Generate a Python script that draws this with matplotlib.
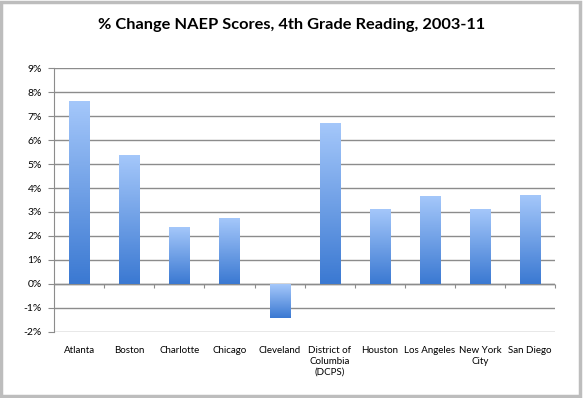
import matplotlib
matplotlib.use('Agg')
import matplotlib.pyplot as plt
import numpy as np
from matplotlib.colors import LinearSegmentedColormap
from matplotlib.ticker import FuncFormatter

cities = ['Atlanta', 'Boston', 'Charlotte', 'Chicago', 'Cleveland',
          'District of\nColumbia\n(DCPS)', 'Houston', 'Los Angeles',
          'New York\nCity', 'San Diego']
changes = [7.6, 5.35, 2.35, 2.75, -1.4, 6.7, 3.12, 3.65, 3.1, 3.68]
yticks = list(range(-2, 10))

plt.rcParams['font.family'] = ['Lato', 'DejaVu Sans']

fig = plt.figure(figsize=(5.83, 3.98), dpi=100)
fig.patches.append(plt.Rectangle((0.002, 0.004), 0.992, 0.99, transform=fig.transFigure,
                                  fill=False, edgecolor='#bdbdbd', linewidth=2.5))
ax = fig.add_axes([0.093, 0.166, 0.859, 0.663])

ymin, ymax = -2, 9
x = np.arange(len(cities))
width = 0.4
cmap = LinearSegmentedColormap.from_list('bar', ['#3b79d2', '#a4c7fa'])
grad = np.linspace(0, 1, 100).reshape(-1, 1)
for xi, v in zip(x, changes):
    lo, hi = min(0, v), max(0, v)
    ax.imshow(grad, cmap=cmap, origin='lower', aspect='auto',
              extent=(xi - width / 2, xi + width / 2, lo, hi), zorder=3)

ax.set_xlim(-0.5, len(cities) - 0.5)
ax.set_ylim(ymin, ymax)
ax.set_yticks(yticks)
ax.yaxis.set_major_formatter(FuncFormatter(lambda v, p: '%d%%' % v))
ax.grid(axis='y', color='#8c8c8c', linewidth=1)
ax.set_axisbelow(True)
ax.set_xticks(x)
ax.set_xticklabels(cities, fontsize=7, linespacing=1.3)
ax.tick_params(axis='x', length=0, pad=10)
ax.tick_params(axis='y', length=4, color='#8c8c8c', labelsize=7.5, pad=5)
for s in ['top', 'right', 'bottom']:
    ax.spines[s].set_visible(False)
ax.spines['left'].set_color('#8c8c8c')

# zero line with category ticks
ax.axhline(0, color='#8c8c8c', linewidth=1, zorder=2)
sec = ax.secondary_xaxis((0 - ymin) / (ymax - ymin))
sec.set_xticks(np.arange(len(cities) + 1) - 0.5)
sec.set_xticklabels([])
sec.tick_params(length=3, color='#8c8c8c', direction='out')
sec.spines['bottom'].set_visible(False)

fig.suptitle('% Change NAEP Scores, 4th Grade Reading, 2003-11',
             fontsize=11.8, fontweight='bold', y=0.955)

plt.savefig('out.png', dpi=100)
